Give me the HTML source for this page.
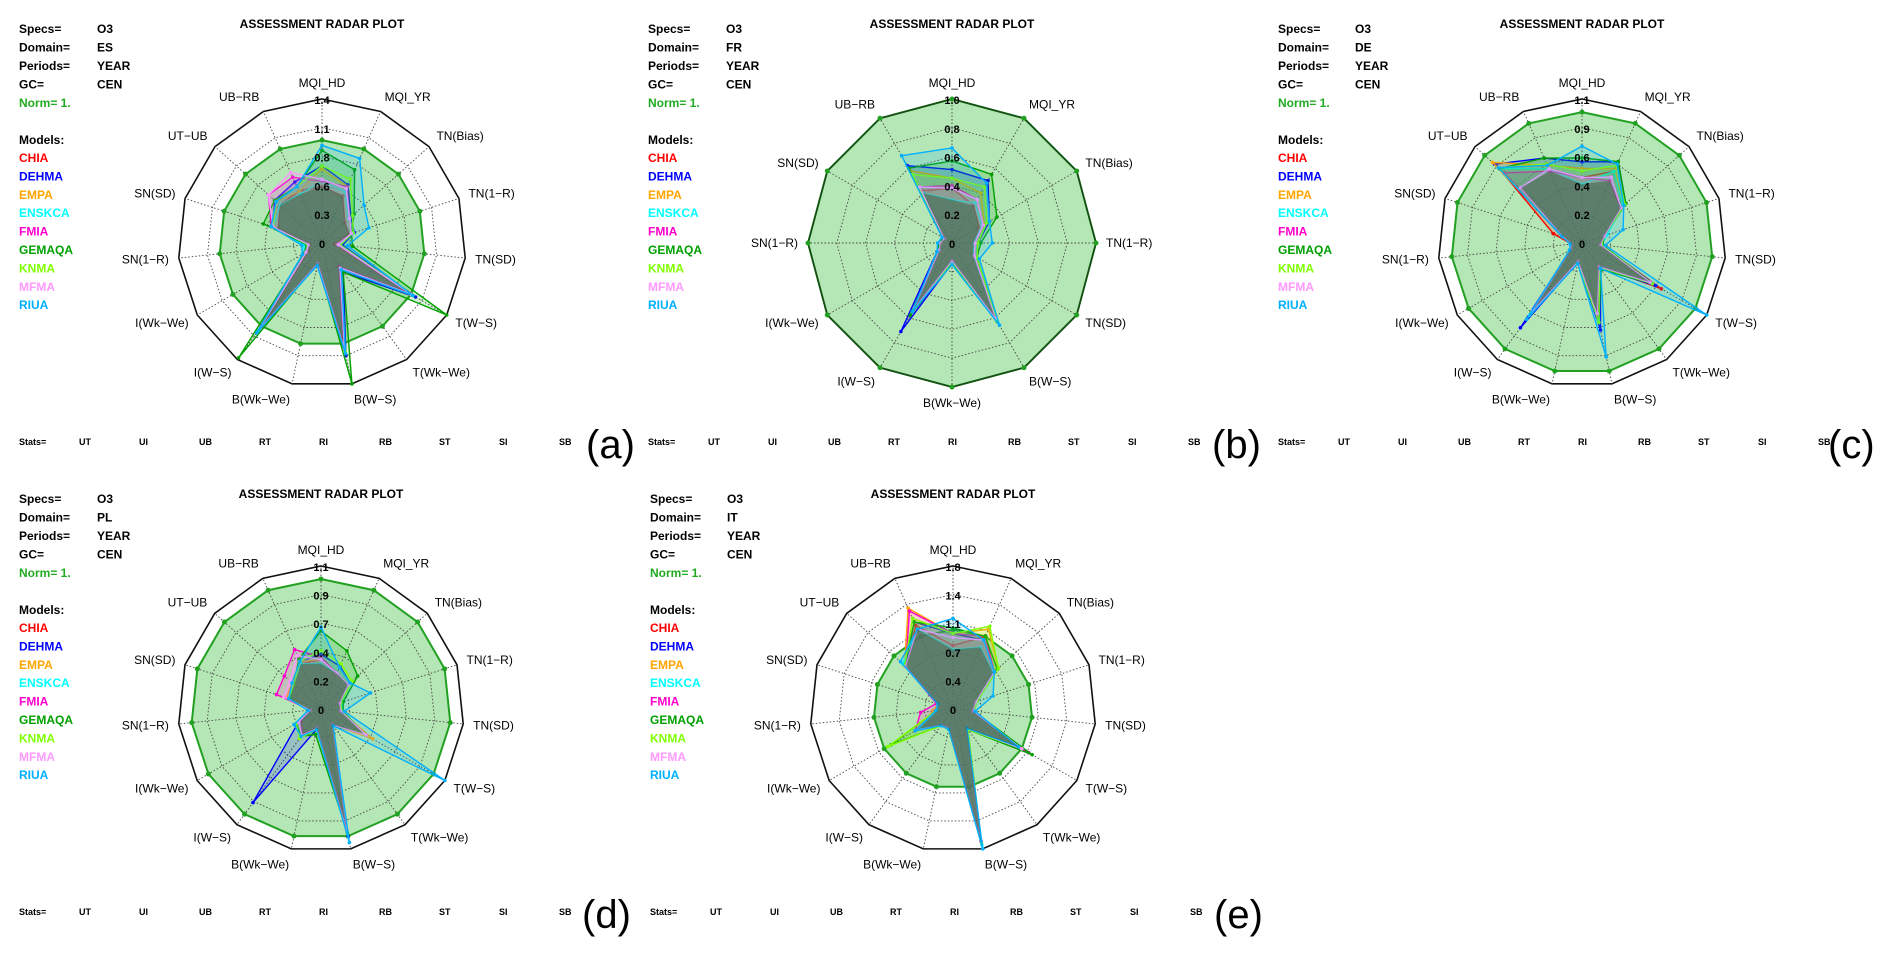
<!DOCTYPE html>
<html><head><meta charset="utf-8"><title>Assessment radar plots</title>
<style>
html,body{margin:0;padding:0;background:#fff;}
svg{display:block;font-family:"Liberation Sans",Arial,sans-serif;}
.hd{font-size:12px;font-weight:bold;}
.ax{font-size:12px;}
.tk{font-size:11px;font-weight:bold;}
.st{font-size:9px;font-weight:bold;}
.big{font-size:40px;}
</style></head>
<body>
<svg id="chart" width="1892" height="957" viewBox="0 0 1892 957" xmlns="http://www.w3.org/2000/svg"></svg>
<script>
const models = ["CHIA","DEHMA","EMPA","ENSKCA","FMIA","GEMAQA","KNMA","MFMA","RIUA"];
const modelColors = ["#ff0000","#0000ff","#ffa500","#00ffff","#ff00cc","#00a000","#80ff00","#ff99ff","#00b0ff"];
const axes15 = ["MQI_HD","MQI_YR","TN(Bias)","TN(1\u2212R)","TN(SD)","T(W\u2212S)","T(Wk\u2212We)","B(W\u2212S)","B(Wk\u2212We)","I(W\u2212S)","I(Wk\u2212We)","SN(1\u2212R)","SN(SD)","UT\u2212UB","UB\u2212RB"];
const axes12 = ["MQI_HD","MQI_YR","TN(Bias)","TN(1\u2212R)","TN(SD)","B(W\u2212S)","B(Wk\u2212We)","I(W\u2212S)","I(Wk\u2212We)","SN(1\u2212R)","SN(SD)","UB\u2212RB"];
const statsLabels = ["UT","UI","UB","RT","RI","RB","ST","SI","SB"];
const domains = ["ES","FR","DE","PL","IT"];
const panelLetters = ["(a)","(b)","(c)","(d)","(e)"];
const maxValues = [1.4,1.0,1.1,1.1,1.8];
const tickLabelsA = ["0","0.3","0.6","0.8","1.1","1.4"];
const tickLabelsB = ["0","0.2","0.4","0.6","0.8","1.0"];
const tickLabelsC = ["0","0.2","0.4","0.6","0.9","1.1"];
const tickLabelsD = ["0","0.2","0.4","0.7","0.9","1.1"];
const tickLabelsE = ["0","0.4","0.7","1.1","1.4","1.8"];
const normValue = 1.0;

const valuesA = [
 [0.55,0.50,0.30,0.28,0.12,0.95,0.30,1.05,0.20,1.00,0.15,0.12,0.45,0.55,0.55],
 [0.75,0.62,0.38,0.33,0.20,1.05,0.35,1.12,0.22,1.05,0.20,0.15,0.50,0.62,0.65],
 [0.72,0.60,0.35,0.30,0.17,1.00,0.32,1.08,0.20,1.02,0.18,0.14,0.48,0.60,0.55],
 [0.60,0.55,0.35,0.32,0.18,1.00,0.30,1.05,0.22,1.05,0.20,0.18,0.50,0.55,0.52],
 [0.60,0.60,0.36,0.30,0.15,0.98,0.28,1.00,0.20,1.00,0.17,0.13,0.52,0.70,0.70],
 [0.90,0.78,0.42,0.30,0.30,1.40,0.35,1.40,0.20,1.38,0.20,0.15,0.60,0.62,0.60],
 [0.75,0.68,0.40,0.32,0.18,1.02,0.30,1.08,0.20,1.02,0.18,0.14,0.50,0.60,0.60],
 [0.62,0.58,0.36,0.30,0.16,1.00,0.30,1.05,0.20,1.02,0.18,0.13,0.50,0.70,0.75],
 [0.95,0.90,0.55,0.48,0.25,1.02,0.32,1.10,0.22,1.08,0.22,0.20,0.52,0.60,0.60]
];
const valuesB = [
 [0.38,0.30,0.22,0.15,0.18,0.60,0.12,0.52,0.10,0.08,0.06,0.42],
 [0.51,0.50,0.30,0.18,0.20,0.62,0.14,0.71,0.12,0.09,0.07,0.62],
 [0.45,0.40,0.26,0.16,0.18,0.62,0.13,0.55,0.10,0.08,0.06,0.58],
 [0.30,0.32,0.24,0.15,0.17,0.60,0.12,0.52,0.10,0.09,0.07,0.40],
 [0.40,0.35,0.25,0.16,0.18,0.60,0.13,0.52,0.10,0.08,0.06,0.45],
 [0.57,0.55,0.36,0.20,0.20,0.63,0.14,0.58,0.11,0.09,0.07,0.60],
 [0.45,0.45,0.28,0.18,0.20,0.62,0.13,0.55,0.10,0.08,0.06,0.55],
 [0.38,0.35,0.25,0.16,0.18,0.60,0.12,0.52,0.10,0.08,0.06,0.45],
 [0.66,0.48,0.30,0.28,0.22,0.66,0.15,0.55,0.12,0.10,0.08,0.70]
];
const valuesC = [
 [0.50,0.60,0.42,0.18,0.15,0.70,0.22,0.60,0.15,0.65,0.10,0.08,0.23,0.85,0.62],
 [0.62,0.68,0.45,0.18,0.15,0.65,0.24,0.68,0.15,0.80,0.10,0.08,0.16,0.90,0.71],
 [0.57,0.62,0.42,0.18,0.14,0.62,0.22,0.60,0.14,0.65,0.10,0.08,0.15,0.92,0.65],
 [0.45,0.60,0.42,0.20,0.15,0.62,0.22,0.60,0.15,0.68,0.10,0.09,0.15,0.85,0.62],
 [0.50,0.52,0.40,0.18,0.14,0.60,0.22,0.58,0.14,0.65,0.10,0.08,0.15,0.80,0.60],
 [0.65,0.68,0.45,0.18,0.16,0.62,0.25,0.62,0.16,0.65,0.11,0.08,0.16,0.85,0.71],
 [0.55,0.65,0.44,0.18,0.15,0.62,0.23,0.62,0.15,0.66,0.10,0.08,0.15,0.86,0.66],
 [0.50,0.55,0.40,0.18,0.14,0.60,0.22,0.55,0.14,0.64,0.10,0.08,0.15,0.63,0.62],
 [0.74,0.66,0.43,0.33,0.18,1.10,0.24,0.89,0.16,0.72,0.11,0.09,0.16,0.86,0.65]
];
const valuesD = [
 [0.38,0.30,0.28,0.15,0.15,0.40,0.15,0.95,0.15,0.24,0.18,0.08,0.25,0.28,0.38],
 [0.42,0.36,0.30,0.16,0.16,0.38,0.15,1.00,0.16,0.89,0.20,0.08,0.26,0.28,0.40],
 [0.38,0.30,0.28,0.15,0.15,0.46,0.15,0.95,0.15,0.26,0.20,0.08,0.28,0.30,0.40],
 [0.35,0.30,0.28,0.17,0.16,0.38,0.15,0.96,0.15,0.25,0.20,0.09,0.25,0.28,0.38],
 [0.40,0.30,0.28,0.15,0.15,0.40,0.15,0.95,0.15,0.24,0.18,0.08,0.36,0.38,0.50],
 [0.60,0.49,0.38,0.18,0.17,0.38,0.16,0.97,0.20,0.26,0.22,0.09,0.25,0.28,0.42],
 [0.45,0.38,0.32,0.16,0.16,0.38,0.15,0.96,0.16,0.28,0.22,0.08,0.26,0.28,0.40],
 [0.38,0.30,0.28,0.15,0.15,0.40,0.15,0.95,0.15,0.25,0.20,0.08,0.30,0.32,0.45],
 [0.63,0.35,0.30,0.40,0.18,1.10,0.16,1.05,0.16,0.26,0.24,0.10,0.26,0.30,0.40]
];
const valuesE = [
 [0.80,1.00,0.70,0.30,0.25,0.95,0.30,1.70,0.25,0.25,0.50,0.25,0.20,0.80,1.15],
 [0.95,0.95,0.70,0.30,0.25,0.95,0.30,1.70,0.25,0.25,0.50,0.22,0.20,0.80,1.20],
 [0.95,1.10,0.77,0.32,0.26,0.98,0.32,1.72,0.26,0.25,0.55,0.25,0.20,0.82,1.39],
 [0.75,0.85,0.68,0.30,0.25,0.95,0.30,1.75,0.25,0.25,0.50,0.20,0.20,0.85,1.10],
 [0.95,1.00,0.70,0.30,0.25,1.10,0.30,1.70,0.25,0.25,0.55,0.41,0.22,0.80,1.35],
 [1.02,1.00,0.75,0.32,0.26,1.15,0.32,1.70,0.26,0.26,0.90,0.22,0.20,0.82,1.20],
 [0.95,1.14,0.77,0.32,0.26,1.00,0.32,1.72,0.26,0.26,0.95,0.22,0.20,0.82,1.25],
 [0.90,0.95,0.70,0.30,0.25,1.00,0.30,1.70,0.25,0.25,0.55,0.22,0.20,0.80,1.10],
 [1.14,0.95,0.70,0.53,0.28,0.95,0.30,1.80,0.26,0.26,0.55,0.22,0.20,0.89,1.10]
];

const NS = "http://www.w3.org/2000/svg";
const svg = document.getElementById("chart");
function mk(tag, parent){ const e=document.createElementNS(NS,tag); parent.appendChild(e); return e; }

const panels = [
 {x0:0,    y0:0,   cx:322, cy:243, R:144, axes:axes15, vals:valuesA, ticks:tickLabelsA, lx:586,  ly:458, tx:19,  vx:97},
 {x0:620,  y0:0,   cx:952, cy:243, R:144, axes:axes12, vals:valuesB, ticks:tickLabelsB, lx:1212, ly:458, tx:28,  vx:106},
 {x0:1262, y0:0,   cx:1582,cy:243, R:144, axes:axes15, vals:valuesC, ticks:tickLabelsC, lx:1828, ly:458, tx:16,  vx:93},
 {x0:0,    y0:470, cx:321, cy:709, R:143, axes:axes15, vals:valuesD, ticks:tickLabelsD, lx:582,  ly:928, tx:19,  vx:97},
 {x0:620,  y0:470, cx:953, cy:709, R:143, axes:axes15, vals:valuesE, ticks:tickLabelsE, lx:1214, ly:928, tx:30,  vx:107}
];

function pt(p, i, n, v, max){
  const a = 2*Math.PI*i/n;
  const r = p.R * v / max;
  return [p.cx + r*Math.sin(a), p.cy - r*Math.cos(a)];
}

panels.forEach((p, pi) => {
  const max = maxValues[pi];
  const n = p.axes.length;
  const g = mk("g", svg);
  
  

  // header text
  const hdr = [["Specs=","O3"],["Domain=",domains[pi]],["Periods=","YEAR"],["GC=","CEN"]];
  hdr.forEach((h, k) => {
    const t = mk("text", g); t.setAttribute("class","hd");
    t.setAttribute("x", p.x0+p.tx); t.setAttribute("y", p.y0+33+k*18.5); t.textContent = h[0];
    
    
    const t2 = mk("text", g); t2.setAttribute("class","hd");
    t2.setAttribute("x", p.x0+p.vx); t2.setAttribute("y", p.y0+33+k*18.5); t2.textContent = h[1];
    
    
  });
  const nm = mk("text", g); nm.setAttribute("class","hd"); nm.setAttribute("fill","#22aa22");
  nm.setAttribute("x", p.x0+p.tx); nm.setAttribute("y", p.y0+107); nm.textContent = "Norm= 1.";
  
  
  const ml = mk("text", g); ml.setAttribute("class","hd");
  ml.setAttribute("x", p.x0+p.tx); ml.setAttribute("y", p.y0+144); ml.textContent = "Models:";
  
  
  models.forEach((m, k) => {
    const t = mk("text", g); t.setAttribute("class","hd"); t.setAttribute("fill", modelColors[k]);
    t.setAttribute("x", p.x0+p.tx); t.setAttribute("y", p.y0+162+k*18.4); t.textContent = m;
    
    
  });
  // title
  const tt = mk("text", g); tt.setAttribute("class","hd"); tt.setAttribute("font-weight","normal");
  tt.setAttribute("x", p.cx); tt.setAttribute("y", p.y0+28); tt.setAttribute("text-anchor","middle");
  tt.setAttribute("font-size","11"); tt.textContent = "ASSESSMENT RADAR PLOT";
  
  

  // norm polygon
  const normPts = []; for (let i=0;i<n;i++) normPts.push(pt(p,i,n,normValue,max));
  const np = mk("polygon", g);
  np.setAttribute("points", normPts.map(q=>q.join(",")).join(" "));
  np.setAttribute("fill","#b5e6b5"); np.setAttribute("stroke","#22a022"); np.setAttribute("stroke-width","2");
  
  

  // rings
  for (let k=1;k<=5;k++){
    const ring=[]; for (let i=0;i<n;i++) ring.push(pt(p,i,n,max*k/5,max));
    const rp = mk("polygon", g);
    rp.setAttribute("points", ring.map(q=>q.join(",")).join(" "));
    rp.setAttribute("fill","none");
    if (k===5){ rp.setAttribute("stroke", pi===1 ? "#1a4a1a" : "#111"); rp.setAttribute("stroke-width","1.6"); }
    else { rp.setAttribute("stroke","#444"); rp.setAttribute("stroke-width","0.9"); rp.setAttribute("stroke-dasharray","1.5,2"); }
    
    
  }
  // spokes
  for (let i=0;i<n;i++){
    const e = pt(p,i,n,max,max);
    const l = mk("line", g);
    l.setAttribute("x1",p.cx); l.setAttribute("y1",p.cy); l.setAttribute("x2",e[0]); l.setAttribute("y2",e[1]);
    l.setAttribute("stroke","#444"); l.setAttribute("stroke-width","0.9"); l.setAttribute("stroke-dasharray","1.5,2");
    
    
  }
  // norm dots
  normPts.forEach(q => {
    const c = mk("circle", g); c.setAttribute("cx",q[0]); c.setAttribute("cy",q[1]); c.setAttribute("r","2.5"); c.setAttribute("fill","#22a022");
    
    
  });

  // model polygons
  p.vals.forEach((row, mi) => {
    const pts = row.map((v,i)=>pt(p,i,n,v,max));
    const poly = mk("polygon", g);
    poly.setAttribute("points", pts.map(q=>q.join(",")).join(" "));
    poly.setAttribute("fill", modelColors[mi]); poly.setAttribute("fill-opacity","0.16");
    poly.setAttribute("stroke", modelColors[mi]); poly.setAttribute("stroke-width","1.4");
    
    
    pts.forEach(q => {
      const c = mk("circle", g); c.setAttribute("cx",q[0]); c.setAttribute("cy",q[1]); c.setAttribute("r","1.8"); c.setAttribute("fill",modelColors[mi]);
      
      
    });
  });
  // dark overlay for core (overlap shading)
  const corePts = []; for (let i=0;i<n;i++){ let mn=1e9; p.vals.forEach(r=>{ if(r[i]<mn) mn=r[i]; }); corePts.push(pt(p,i,n,mn,max)); }
  const core = mk("polygon", g);
  core.setAttribute("points", corePts.map(q=>q.join(",")).join(" "));
  core.setAttribute("fill","#2f4f2f"); core.setAttribute("fill-opacity","0.45");
  
  

  // tick labels
  p.ticks.forEach((lab, k) => {
    const q = pt(p,0,n,max*k/5,max);
    const t = mk("text", g); t.setAttribute("class","tk");
    t.setAttribute("x", q[0]); t.setAttribute("y", q[1]+5); t.setAttribute("text-anchor","middle");
    t.textContent = lab;
    
    
  });
  // axis labels
  p.axes.forEach((lab, i) => {
    const a = 2*Math.PI*i/n; const s=Math.sin(a), c=Math.cos(a);
    const r = p.R + 10;
    const x = p.cx + r*s, y = p.cy - r*c;
    const t = mk("text", g); t.setAttribute("class","ax");
    let anchor = "middle"; if (s>0.15) anchor="start"; else if (s<-0.15) anchor="end";
    t.setAttribute("x", x); t.setAttribute("y", y + 4 - c*6);
    t.setAttribute("text-anchor", anchor); t.textContent = lab;
    
    
  });
  // stats row
  const sy = p.y0 + 445;
  const s0 = mk("text", g); s0.setAttribute("class","st"); s0.setAttribute("x", p.x0+p.tx); s0.setAttribute("y", sy); s0.textContent="Stats=";
  
  
  statsLabels.forEach((sl, k) => {
    const t = mk("text", g); t.setAttribute("class","st");
    t.setAttribute("x", p.x0+p.tx+60+k*60); t.setAttribute("y", sy); t.textContent = sl;
    
    
  });
  // panel letter
  const L = mk("text", g); L.setAttribute("class","big"); L.setAttribute("x", p.lx); L.setAttribute("y", p.ly); L.textContent = panelLetters[pi];
  
  
});
</script>
</body></html>
